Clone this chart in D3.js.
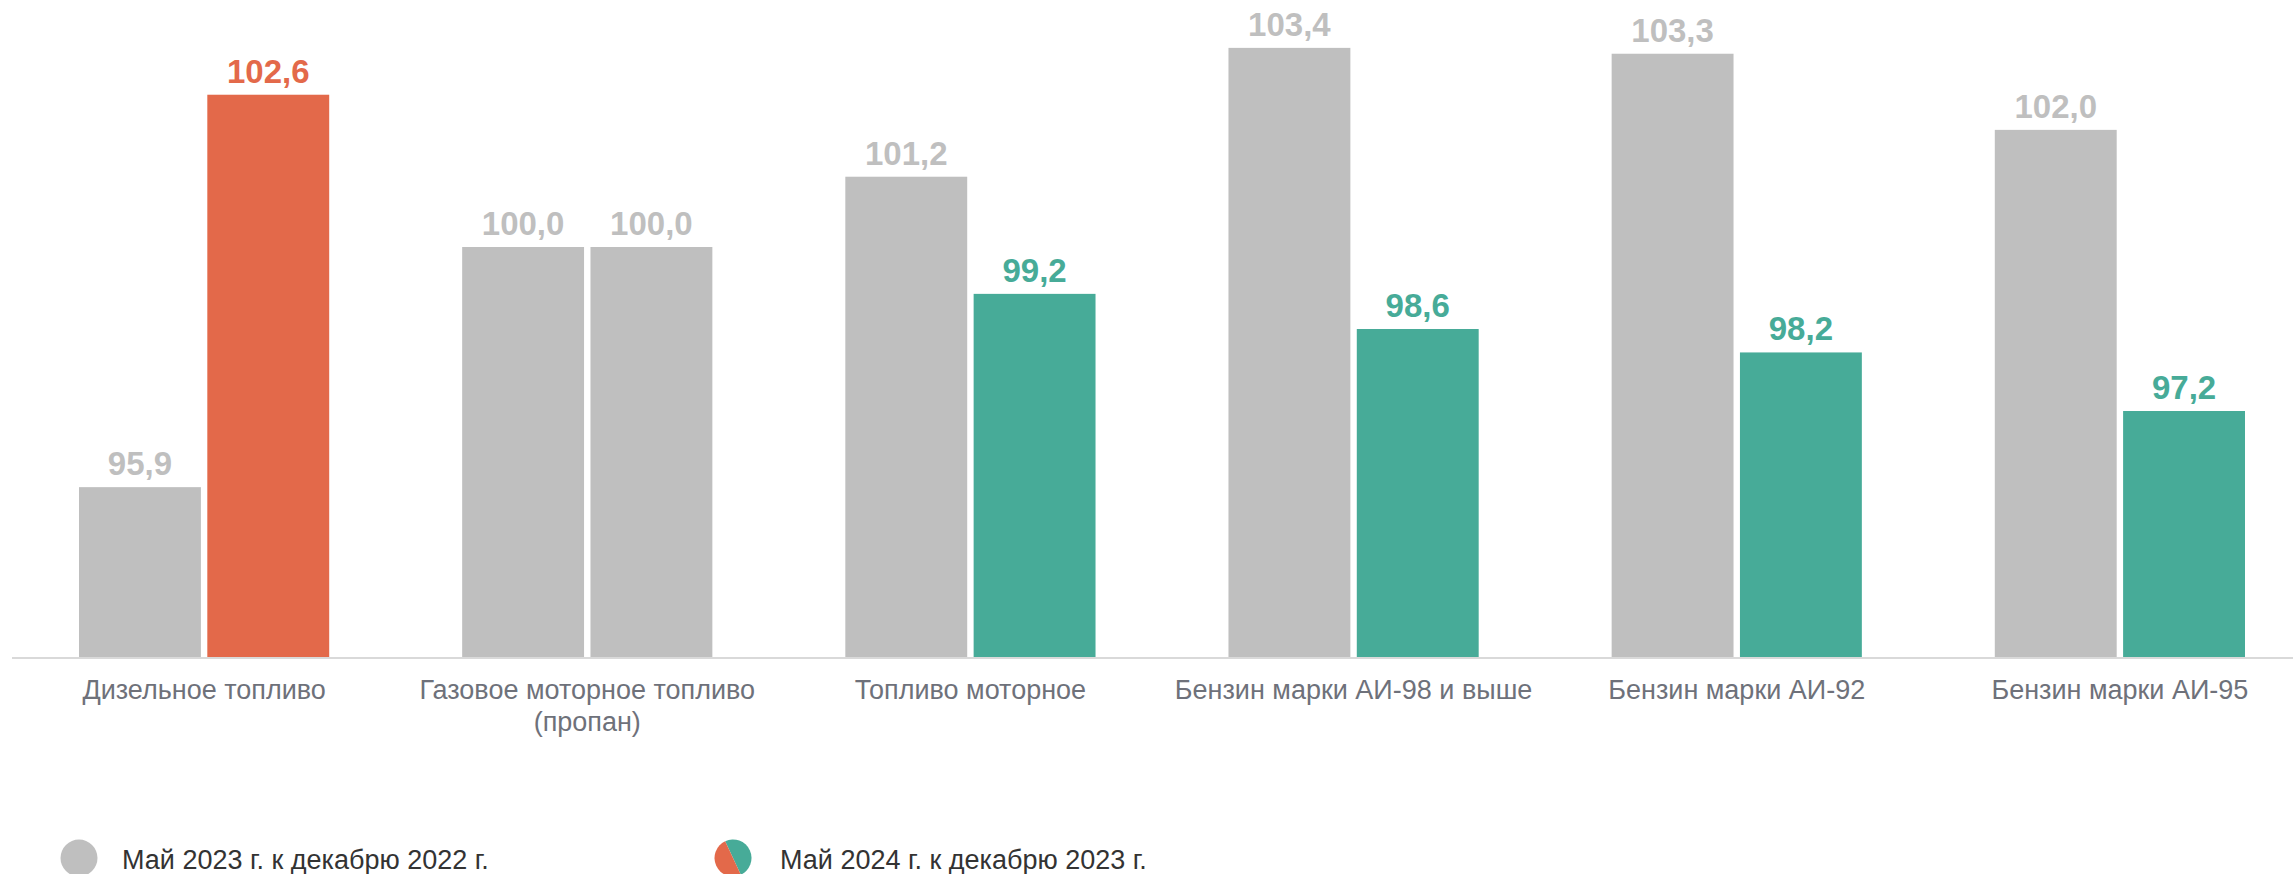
<!DOCTYPE html>
<html>
<head>
<meta charset="utf-8">
<script src="https://cdn.jsdelivr.net/npm/d3@7"></script>
<style>
  html, body { margin: 0; padding: 0; background: #ffffff; }
  svg { display: block; font-family: "Liberation Sans", Arial, sans-serif; }
</style>
</head>
<body>
<svg id="chart" width="2293" height="874"></svg>
<script>
// ---- data ----
const categories = [
  ["Дизельное топливо"],
  ["Газовое моторное топливо", "(пропан)"],
  ["Топливо моторное"],
  ["Бензин марки АИ-98 и выше"],
  ["Бензин марки АИ-92"],
  ["Бензин марки АИ-95"]
];
const seriesNames = ["Май 2023 г. к декабрю 2022 г.", "Май 2024 г. к декабрю 2023 г."];
const values2023 = [95.9, 100.0, 101.2, 103.4, 103.3, 102.0];
const values2024 = [102.6, 100.0, 99.2, 98.6, 98.2, 97.2];

// ---- styles ----
const GREY = "#BFBFBF", ORANGE = "#E3694A", TEAL = "#47AB98";
const colorFor = (s, v) => s === 0 ? GREY : (v > 100 ? ORANGE : (v < 100 ? TEAL : GREY));

const svg = d3.select("#chart");
const baseY = 657;

const x0 = d3.scaleBand().domain(d3.range(categories.length)).range([79, 2245]).paddingInner(0.347).paddingOuter(0);
const x1 = d3.scaleBand().domain([0, 1]).range([0, x0.bandwidth()]).paddingInner(0.05);
const y = d3.scaleLinear().domain([93, 104]).range([baseY, baseY - 11 * 58.57]);

const locale = d3.formatLocale({decimal: ",", thousands: " ", grouping: [3], currency: ["", ""]});
const fmt = locale.format(".1f");

const rows = categories.map((c, i) => ({i, vals: [values2023[i], values2024[i]]}));

const g = svg.selectAll("g.grp").data(rows).join("g")
  .attr("class", "grp")
  .attr("transform", d => `translate(${x0(d.i)},0)`);

const items = g.selectAll("g.item").data(d => d.vals.map((v, s) => ({s, v}))).join("g").attr("class", "item");

items.append("rect")
  .attr("x", d => x1(d.s))
  .attr("width", x1.bandwidth())
  .attr("y", d => y(d.v))
  .attr("height", d => y.range()[0] - y(d.v))
  .attr("fill", d => colorFor(d.s, d.v));

items.append("text")
  .attr("x", d => x1(d.s) + x1.bandwidth() / 2)
  .attr("y", d => y(d.v) - 12)
  .attr("text-anchor", "middle")
  .attr("font-size", 33)
  .attr("font-weight", "bold")
  .attr("fill", d => colorFor(d.s, d.v))
  .text(d => fmt(d.v));

// baseline axis
svg.append("line")
  .attr("x1", 12).attr("x2", 2293)
  .attr("y1", baseY + 1).attr("y2", baseY + 1)
  .attr("stroke", "#D9D9D9").attr("stroke-width", 2);

// category labels
const labels = svg.selectAll("text.cat").data(categories).join("text")
  .attr("class", "cat")
  .attr("text-anchor", "middle")
  .attr("font-size", 27)
  .attr("fill", "#6E717A")
  .attr("transform", (d, i) => `translate(${x0(i) + x0.bandwidth() / 2},699)`);
labels.selectAll("tspan").data(d => d).join("tspan")
  .attr("x", 0)
  .attr("y", (d, k) => k * 32)
  .text(d => d);

// legend
const legend = svg.append("g");
const lg1 = legend.append("g").attr("transform", "translate(79,858)");
lg1.append("circle").attr("r", 18.5).attr("fill", GREY);
lg1.append("text").attr("x", 43).attr("y", 11).attr("font-size", 27).attr("fill", "#333333").text(seriesNames[0]);

const lg2 = legend.append("g").attr("transform", "translate(733,858)");
const arc = d3.arc().innerRadius(0).outerRadius(18.5);
const tilt = -25 * Math.PI / 180;
lg2.append("path").attr("d", arc({startAngle: tilt, endAngle: tilt + Math.PI})).attr("fill", TEAL);
lg2.append("path").attr("d", arc({startAngle: tilt + Math.PI, endAngle: tilt + 2 * Math.PI})).attr("fill", ORANGE);
lg2.append("text").attr("x", 47).attr("y", 11).attr("font-size", 27).attr("fill", "#333333").text(seriesNames[1]);
</script>
</body>
</html>
